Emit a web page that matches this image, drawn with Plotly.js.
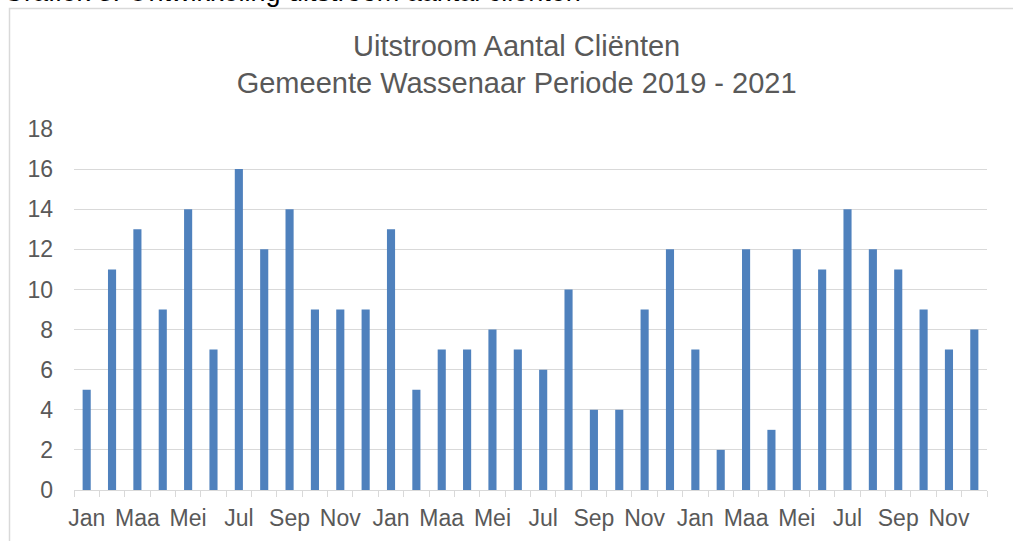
<!DOCTYPE html>
<html>
<head>
<meta charset="utf-8">
<script src="https://cdn.plot.ly/plotly-3.0.1.min.js"></script>
<style>
  html, body { margin: 0; padding: 0; background: #ffffff; }
  #chart { width: 1013px; height: 541px; }
</style>
</head>
<body>
<div id="chart"></div>
<script>
const years = ["2019", "2020", "2021"];
const months = ["Jan", "Feb", "Maa", "Apr", "Mei", "Jun", "Jul", "Aug", "Sep", "Okt", "Nov", "Dec"];
const values2019 = [5, 11, 13, 9, 14, 7, 16, 12, 14, 9, 9, 9];
const values2020 = [13, 5, 7, 7, 8, 7, 6, 10, 4, 4, 9, 12];
const values2021 = [7, 2, 12, 3, 12, 11, 14, 12, 11, 9, 7, 8];

const textColor = "#595959";
const gridColor = "#d9d9d9";
const font = "Liberation Sans, Arial, sans-serif";

const allValues = [...values2019, ...values2020, ...values2021];
const labels = years.flatMap((y) => months.map((m) => m + " " + y));
const xIdx = allValues.map((_, i) => i);

// only every other month gets a label, like the original
const tickIdx = xIdx.filter((i) => i % 2 === 0);
const tickText = tickIdx.map((i) => months[i % 12]);

// helpers to place the frame/caption outside the plot area (paper coords)
const L = 74, R = 987, T = 129, B = 490;
const px = (x) => (x - L) / (R - L);
const py = (y) => (B - y) / (B - T);

const trace = {
  type: "bar",
  x: xIdx,
  y: allValues,
  hovertext: labels,
  hovertemplate: "%{hovertext}: %{y}<extra></extra>",
  textposition: "none",
  width: 0.32,
  marker: { color: "#4f81bd" }
};

const layout = {
  width: 1013,
  height: 541,
  margin: { l: L, r: 1013 - R, t: T, b: 541 - B },
  paper_bgcolor: "#ffffff",
  plot_bgcolor: "#ffffff",
  showlegend: false,
  font: { family: font, size: 23, color: textColor },
  title: {
    text: "Uitstroom Aantal Cliënten<br>Gemeente Wassenaar Periode 2019 - 2021",
    font: { family: font, size: 29, color: textColor },
    x: 0.51,
    xanchor: "center",
    y: 0.897,
    yanchor: "top"
  },
  xaxis: {
    range: [-0.5, 35.5],
    tickmode: "array",
    tickvals: tickIdx,
    ticktext: tickText,
    ticks: "",
    ticklabelstandoff: 7,
    showgrid: false,
    zeroline: false,
    showline: true,
    linecolor: gridColor,
    linewidth: 1,
    tickfont: { family: font, size: 23, color: textColor },
    minor: {
      tick0: -0.5,
      dtick: 1,
      ticks: "outside",
      ticklen: 6,
      tickwidth: 1,
      tickcolor: gridColor,
      showgrid: false
    }
  },
  yaxis: {
    range: [0, 18],
    dtick: 2,
    tick0: 0,
    ticks: "",
    ticklabelstandoff: 20,
    showgrid: true,
    gridcolor: gridColor,
    gridwidth: 1,
    zeroline: false,
    showline: false,
    tickfont: { family: font, size: 23, color: textColor }
  },
  shapes: [
    {
      type: "path",
      xref: "paper",
      yref: "paper",
      path: "M " + px(9.5) + " " + py(560) + " L " + px(9.5) + " " + py(8.5) + " L " + px(1030) + " " + py(8.5),
      line: { color: gridColor, width: 1.5 }
    }
  ],
  annotations: [
    {
      xref: "paper",
      yref: "paper",
      x: px(1),
      y: py(9),
      xanchor: "left",
      yanchor: "bottom",
      showarrow: false,
      text: "Grafiek 3: Ontwikkeling uitstroom aantal cliënten",
      font: { family: font, size: 27, color: "#000000" }
    }
  ]
};

Plotly.newPlot("chart", [trace], layout, { displayModeBar: false, staticPlot: true });
</script>
</body>
</html>
